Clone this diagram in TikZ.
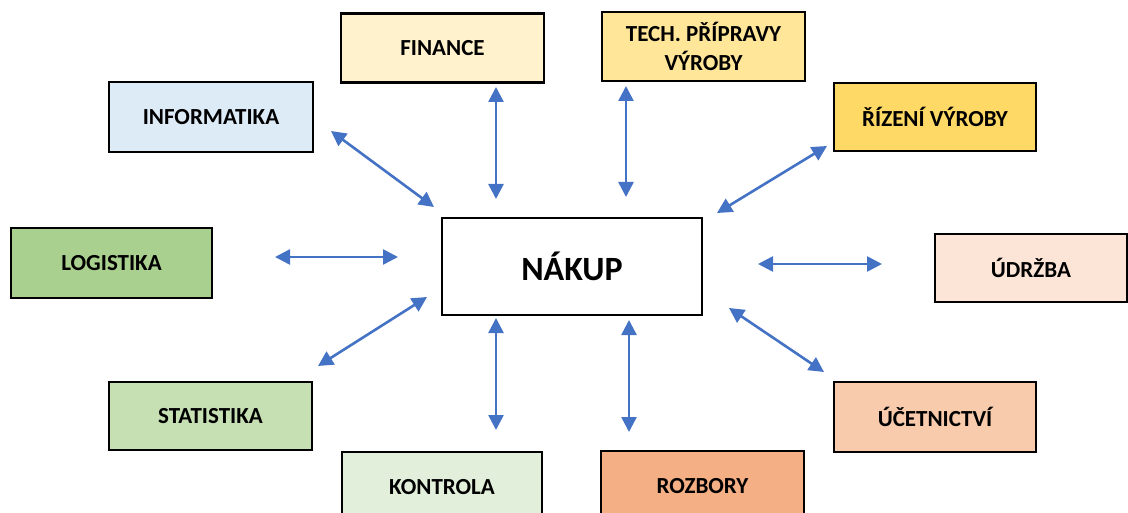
\documentclass[tikz,border=0pt]{standalone}
\usepackage{fontspec}
\setmainfont{Carlito}
\usepackage{tikz}
\usetikzlibrary{
    arrows.meta,
    positioning
}
\definecolor{linkblue}{HTML}{4472C4}
\definecolor{fincol}{HTML}{FFF2CC}
\definecolor{techcol}{HTML}{FFE699}
\definecolor{rizcol}{HTML}{FFD966}
\definecolor{infcol}{HTML}{DDEBF7}
\definecolor{logcol}{HTML}{A9D08E}
\definecolor{statcol}{HTML}{C6E0B4}
\definecolor{kontcol}{HTML}{E2EFDA}
\definecolor{udrcol}{HTML}{FCE4D6}
\definecolor{ucecol}{HTML}{F8CBAD}
\definecolor{rozcol}{HTML}{F4B084}
\tikzset{
    dept/.style={draw=black, line width=2.6pt, minimum width=203pt, minimum height=69pt,
        inner sep=0pt, align=center, font=\fontsize{23}{29}\selectfont\bfseries},
    link/.style={draw=linkblue, line width=2.6pt,
        {Triangle[length=15pt,width=15pt]}-{Triangle[length=15pt,width=15pt]}}
}
\begin{document}
\begin{tikzpicture}[x=1pt,y=-1pt]
    \useasboundingbox (0,0) rectangle (1128,513);
    \clip (0,0) rectangle (1128,513);
    % departments
    \node[dept, fill=white, minimum width=260pt, minimum height=97pt,
        font=\fontsize{34}{40}\selectfont\bfseries] (nakup) at (572,266.5) {NÁKUP};
    \node[dept, fill=fincol] (finance) at (442.5,48) {FINANCE};
    \node[dept, fill=techcol] (tech) at (703.5,46.5) {TECH. PŘÍPRAVY\\VÝROBY};
    \node[dept, fill=rizcol, minimum width=202pt, minimum height=68pt] (rizeni) at (935,117) {ŘÍZENÍ VÝROBY};
    \node[dept, fill=infcol, minimum width=204pt, minimum height=70pt] (info) at (211,117) {INFORMATIKA};
    \node[dept, fill=logcol, minimum width=201pt, minimum height=70pt] (logist) at (111.5,263) {LOGISTIKA};
    \node[dept, fill=udrcol, minimum width=192pt, minimum height=68pt] (udrzba) at (1031,268) {ÚDRŽBA};
    \node[dept, fill=statcol, minimum height=68pt] (stat) at (210.5,416) {STATISTIKA};
    \node[dept, fill=ucecol, minimum width=202pt, minimum height=70pt] (ucet) at (935,417) {ÚČETNICTVÍ};
    \node[dept, fill=kontcol, minimum width=200pt, minimum height=70pt] (kontrola) at (442,487) {KONTROLA};
    \node[dept, fill=rozcol, minimum height=70pt] (rozbory) at (702.5,486) {ROZBORY};
    % arrow ends
    \coordinate (infA) at (331,131);   \coordinate (infB) at (434,207);
    \coordinate (finA) at (496,87);    \coordinate (finB) at (496,199);
    \coordinate (logA) at (275,257);   \coordinate (logB) at (398,257);
    \coordinate (techA) at (626,86);   \coordinate (techB) at (626,197);
    \coordinate (rizA) at (827,146);   \coordinate (rizB) at (717,213);
    \coordinate (udrA) at (882,264);   \coordinate (udrB) at (758,264);
    \coordinate (uceA) at (824,372);   \coordinate (uceB) at (729,308);
    \coordinate (rozA) at (629,432);   \coordinate (rozB) at (629,320);
    \coordinate (konA) at (496,430);   \coordinate (konB) at (496,318);
    \coordinate (statA) at (318,366);  \coordinate (statB) at (427,297);
    % links
    \foreach \a/\b in {infA/infB, finA/finB, logA/logB, techA/techB, rizA/rizB,
        udrA/udrB, uceA/uceB, rozA/rozB, konA/konB, statA/statB}
        \draw[link] (\a) -- (\b);
\end{tikzpicture}
\end{document}
